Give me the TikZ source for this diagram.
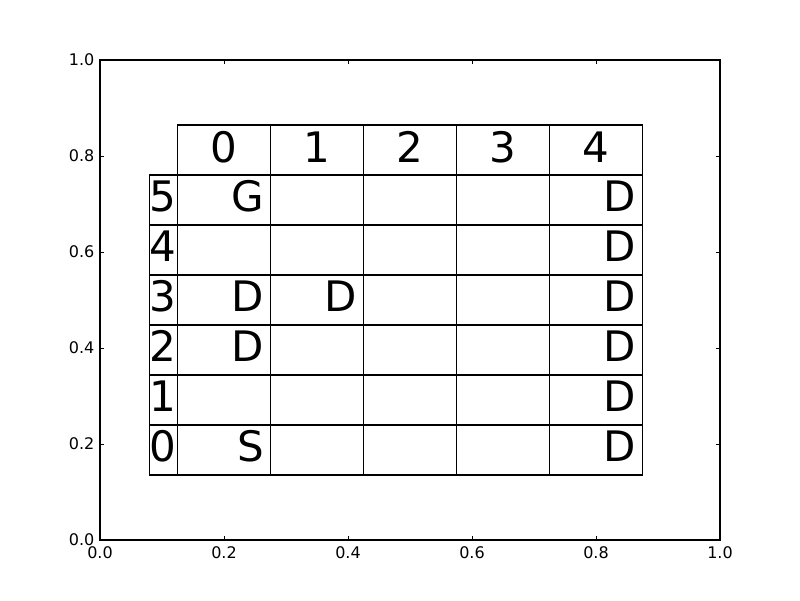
\documentclass[tikz,border=0pt]{standalone}
\usepackage{fontspec}
\setmainfont{DejaVu Sans}
\begin{document}
\begin{tikzpicture}[x=1pt,y=-1pt,
  cellbox/.style={draw,line width=1.1pt,minimum width=93pt,minimum height=50pt,inner sep=0pt,outer sep=0pt,anchor=north west},
  labbox/.style={draw,line width=1.1pt,minimum width=28.2pt,minimum height=50pt,inner sep=0pt,outer sep=0pt,anchor=north west},
  big/.style={font=\fontsize{42}{42}\selectfont,inner sep=0pt},
  ticklab/.style={font=\fontsize{16}{16}\selectfont,inner sep=0pt}]
\useasboundingbox[fill=white] (0,0) rectangle (800,600);
% axes frame
\node[draw,line width=1.1pt,minimum width=620pt,minimum height=480pt,inner sep=0pt,outer sep=0pt,anchor=north west] (ax) at (100,60) {};
% ticks
\foreach \v in {0.2,0.4,0.6,0.8}{
  \pgfmathsetmacro{\xx}{100+620*\v}
  \pgfmathsetmacro{\yy}{540-480*\v}
  \draw[line width=0.8pt] (\xx,540) -- (\xx,536);
  \draw[line width=0.8pt] (\xx,60) -- (\xx,64);
  \draw[line width=0.8pt] (100,\yy) -- (104,\yy);
  \draw[line width=0.8pt] (720,\yy) -- (716,\yy);
}
\foreach \v/\t in {0/0.0,0.2/0.2,0.4/0.4,0.6/0.6,0.8/0.8,1/1.0}{
  \pgfmathsetmacro{\xx}{100+620*\v}
  \pgfmathsetmacro{\yy}{540-480*\v}
  \node[ticklab,anchor=north] (bx\t) at (\xx,546.5) {\t};
  \node[ticklab,anchor=east] (ly\t) at (94.5,\yy) {\t};
}
% header row
\foreach \c in {0,...,4}{
  \pgfmathsetmacro{\xx}{177.5+93*\c}
  \node[cellbox] (h\c) at (\xx,125) {};
  \node[big,anchor=base] (ht\c) at ([yshift=-37pt]h\c.north) {\c};
}
% data rows
\foreach \r in {0,...,5}{
  \pgfmathsetmacro{\yy}{175+50*(5-\r)}
  \node[labbox] (l\r) at (149.3,\yy) {};
  \node[big,anchor=base west] (lt\r) at ([xshift=-0.5pt,yshift=-36.5pt]l\r.north west) {\r};
  \foreach \c in {0,...,4}{
    \pgfmathsetmacro{\xx}{177.5+93*\c}
    \node[cellbox] (c\r-\c) at (\xx,\yy) {};
  }
}
\foreach \r/\c/\s in {5/0/G,5/4/D,4/4/D,3/0/D,3/1/D,3/4/D,2/0/D,2/4/D,1/4/D,0/0/S,0/4/D}{
  \node[big,anchor=base east] (t\r-\c) at ([xshift=-6pt,yshift=-36.5pt]c\r-\c.north east) {\s};
}
\end{tikzpicture}
\end{document}
